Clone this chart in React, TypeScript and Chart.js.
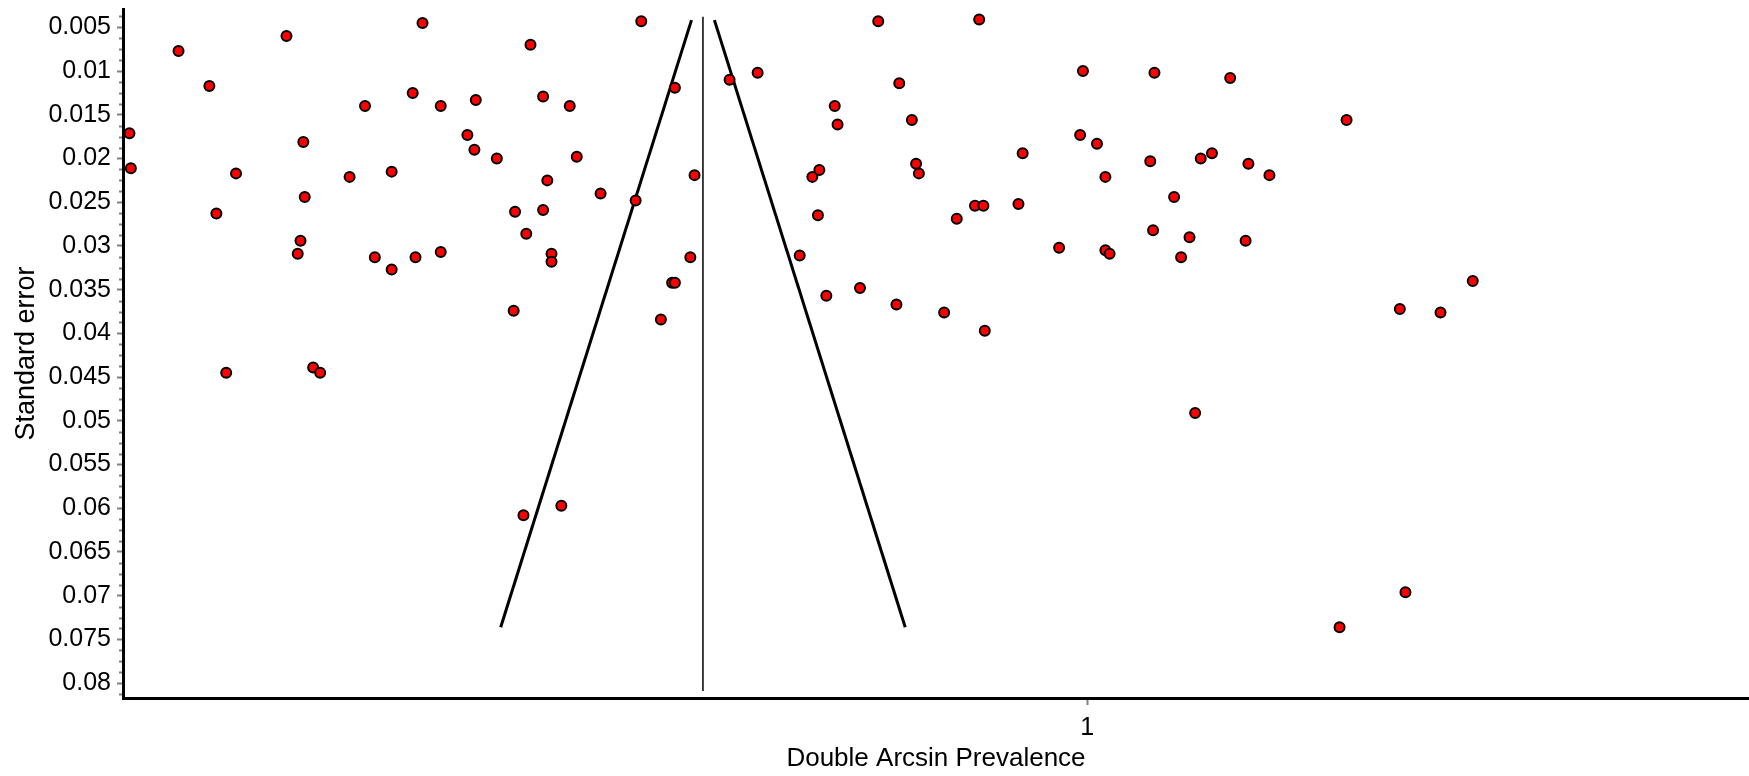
import React, { useEffect, useRef } from "react";
import { Chart, registerables } from "chart.js";

Chart.register(...registerables);

// Study effects (double arcsine prevalence) and their standard errors
const prevalence = [
  0.317, 0.318, 0.352, 0.374, 0.393, 0.379, 0.429, 0.441, 0.442, 0.439,
  0.437, 0.474, 0.485, 0.504, 0.492, 0.504, 0.526, 0.519, 0.539, 0.521,
  0.539, 0.564, 0.558, 0.563, 0.579, 0.603, 0.612, 0.631, 0.615, 0.592,
  0.612, 0.600, 0.618, 0.618, 0.591, 0.386, 0.448, 0.453, 0.598, 0.625,
  0.682, 0.706, 0.636, 0.720, 0.653, 0.678, 0.717, 0.704, 0.706, 0.696,
  0.745, 0.765, 0.851, 0.923, 0.866, 0.820, 0.822, 0.875, 0.954, 0.809,
  0.804, 0.878, 0.880, 0.808, 0.920, 0.926, 0.951, 0.907, 0.795, 0.814,
  0.838, 0.864, 0.898, 0.927, 0.997, 1.048, 1.102, 1.185, 0.995, 1.007,
  1.013, 1.045, 1.081, 1.089, 1.115, 1.130, 1.062, 1.047, 1.073, 1.113,
  0.980, 1.013, 1.016, 1.067, 1.223, 1.252, 1.275, 1.077, 1.227, 1.180,
];
const standardError = [
  0.0171, 0.0211, 0.0077, 0.0117, 0.0217, 0.0263, 0.0060, 0.0181, 0.0244, 0.0294,
  0.0309, 0.0221, 0.0140, 0.0215, 0.0313, 0.0327, 0.0045, 0.0125, 0.0140, 0.0313,
  0.0307, 0.0133, 0.0173, 0.0190, 0.0200, 0.0070, 0.0129, 0.0140, 0.0225, 0.0261,
  0.0259, 0.0286, 0.0309, 0.0318, 0.0374, 0.0445, 0.0439, 0.0445, 0.0608, 0.0597,
  0.0043, 0.0119, 0.0198, 0.0219, 0.0240, 0.0248, 0.0313, 0.0342, 0.0342, 0.0384,
  0.0110, 0.0102, 0.0043, 0.0041, 0.0114, 0.0140, 0.0161, 0.0156, 0.0194, 0.0213,
  0.0221, 0.0206, 0.0217, 0.0265, 0.0254, 0.0254, 0.0252, 0.0269, 0.0311, 0.0357,
  0.0348, 0.0367, 0.0376, 0.0397, 0.0100, 0.0102, 0.0108, 0.0156, 0.0173, 0.0183,
  0.0221, 0.0203, 0.0200, 0.0194, 0.0206, 0.0219, 0.0244, 0.0282, 0.0290, 0.0294,
  0.0302, 0.0305, 0.0309, 0.0313, 0.0372, 0.0376, 0.0340, 0.0491, 0.0696, 0.0736,
];

const pooledEstimate = 0.726;
const funnelSE = [0.00417, 0.0736];
const centerLineSE = [0.0038, 0.0809];
const zValue = 1.96;

const yTickValues = [
  0.005, 0.01, 0.015, 0.02, 0.025, 0.03, 0.035, 0.04,
  0.045, 0.05, 0.055, 0.06, 0.065, 0.07, 0.075, 0.08,
];
const xTickValues = [1];

const FONT = "'Liberation Sans', Arial, Helvetica, sans-serif";

export default function App() {
  const ref = useRef<HTMLCanvasElement | null>(null);

  useEffect(() => {
    if (!ref.current) return;
    const points = prevalence.map((x, i) => ({ x, y: standardError[i] }));
    const leftFunnel = funnelSE.map((se) => ({ x: pooledEstimate - zValue * se, y: se }));
    const rightFunnel = funnelSE.map((se) => ({ x: pooledEstimate + zValue * se, y: se }));
    const centerLine = centerLineSE.map((se) => ({ x: pooledEstimate, y: se }));

    const minorTicks = {
      id: "minorTicks",
      afterDraw(chart: any) {
        const ys = chart.scales.y;
        const ctx = chart.ctx;
        const left = chart.chartArea.left;
        ctx.save();
        ctx.strokeStyle = "#808080";
        ctx.lineWidth = 2;
        const step = 0.00125;
        for (let k = 0; k < 80; k++) {
          const v = 0.00375 + k * step;
          if (v > ys.max) break;
          if (v < ys.min) continue;
          const r = v / 0.005;
          if (Math.abs(r - Math.round(r)) < 1e-6) continue;
          const py = Math.round(ys.getPixelForValue(v)) + 0.5;
          ctx.beginPath();
          ctx.moveTo(left - 4, py);
          ctx.lineTo(left - 1, py);
          ctx.stroke();
        }
        ctx.restore();
      },
    };

    const chart = new Chart(ref.current, {
      type: "scatter",
      data: {
        datasets: [
          {
            data: points,
            backgroundColor: "#ff0000",
            borderColor: "#000000",
            borderWidth: 2,
            pointRadius: 5,
            showLine: false,
            clip: false as any,
          },
          {
            data: leftFunnel,
            showLine: true,
            borderColor: "#000000",
            borderWidth: 3,
            pointRadius: 0,
          },
          {
            data: rightFunnel,
            showLine: true,
            borderColor: "#000000",
            borderWidth: 3,
            pointRadius: 0,
          },
          {
            data: centerLine,
            showLine: true,
            borderColor: "#000000",
            borderWidth: 1.5,
            pointRadius: 0,
          },
        ],
      },
      options: {
        animation: false,
        responsive: false,
        devicePixelRatio: 1,
        layout: { autoPadding: false, padding: { top: 9, left: 0, right: 0, bottom: 0 } } as any,
        plugins: {
          legend: { display: false },
          tooltip: { enabled: false },
          title: { display: false },
        },
        scales: {
          x: {
            type: "linear",
            min: 0.3124,
            max: 1.472,
            afterBuildTicks: (s: any) => {
              s.ticks = xTickValues.map((v) => ({ value: v }));
            },
            afterFit: (s: any) => {
              s.height = 78;
              s.paddingLeft = 0;
              s.paddingRight = 0;
              s.paddingTop = 0;
              s.paddingBottom = 0;
            },
            grid: {
              drawOnChartArea: false,
              drawTicks: true,
              tickLength: 7,
              tickColor: "#808080",
              tickWidth: 2,
            },
            border: { display: true, color: "#000000", width: 3 },
            ticks: {
              color: "#000000",
              font: { family: FONT, size: 25 },
              padding: 8,
              autoSkip: false,
              maxRotation: 0,
              callback: (v: any) => String(v),
            },
            title: {
              display: true,
              text: "Double Arcsin Prevalence",
              color: "#000000",
              font: { family: FONT, size: 26 },
              padding: { top: 0, bottom: 2 },
            },
          },
          y: {
            type: "linear",
            reverse: true,
            min: 0.0029,
            max: 0.0817,
            afterBuildTicks: (s: any) => {
              s.ticks = yTickValues.map((v) => ({ value: v }));
            },
            afterFit: (s: any) => {
              s.width = 123;
              s.paddingLeft = 0;
              s.paddingRight = 0;
              s.paddingTop = 0;
              s.paddingBottom = 0;
            },
            grid: {
              drawOnChartArea: false,
              drawTicks: true,
              tickLength: 6,
              tickColor: "#808080",
              tickWidth: 2,
            },
            border: { display: true, color: "#000000", width: 3 },
            ticks: {
              color: "#000000",
              font: { family: FONT, size: 25 },
              padding: 6,
              autoSkip: false,
              callback: (v: any) => String(parseFloat(Number(v).toFixed(4))),
            },
            title: {
              display: true,
              text: "Standard error",
              color: "#000000",
              font: { family: FONT, size: 27 },
              padding: { top: 10, bottom: 0 },
            },
          },
        },
      },
      plugins: [minorTicks],
    });
    return () => chart.destroy();
  }, []);

  return (
    <div style={{ position: "absolute", left: 0, top: 0, width: 1749, height: 776, background: "#fff" }}>
      <canvas ref={ref} width={1749} height={776} style={{ width: 1749, height: 776, display: "block" }} />
    </div>
  );
}
